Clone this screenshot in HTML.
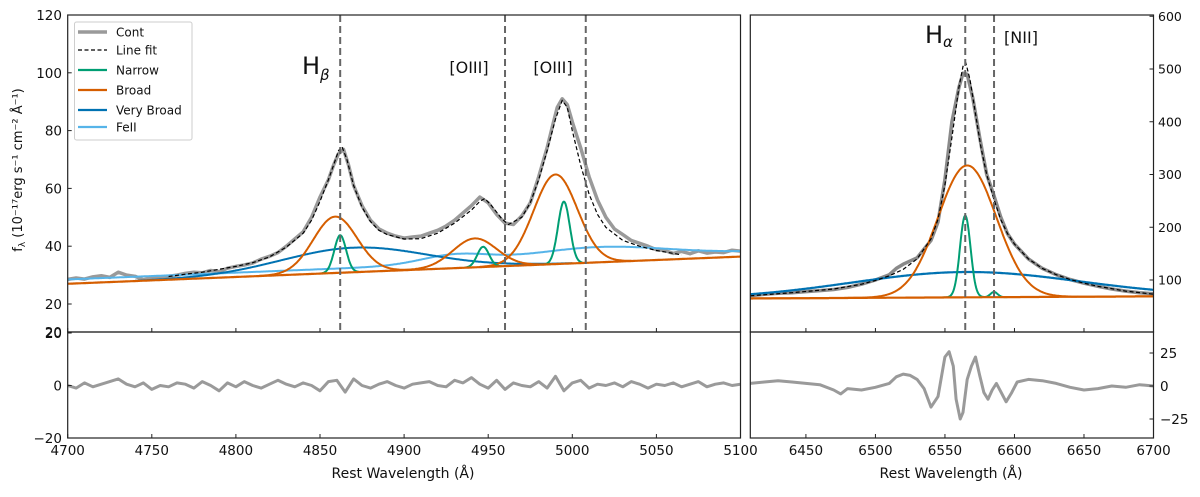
<!DOCTYPE html>
<html><head><meta charset="utf-8"><style>
html,body{margin:0;padding:0;background:#fff;}
svg text{font-family:"DejaVu Sans","Liberation Sans",sans-serif;fill:#111;}
</style></head><body>
<svg id="c" width="1200" height="492" viewBox="0 0 1200 492" xmlns="http://www.w3.org/2000/svg"></svg>
<script>
// ---------- data ----------
const waveL=[4700,4705,4710,4715,4720,4725,4730,4735,4740,4745,4750,4755,4760,4765,4770,4775,4780,4785,4790,4795,4800,4805,4810,4815,4820,4825,4830,4835,4840,4845,4850,4855,4858,4861,4864,4867,4870,4875,4880,4885,4890,4895,4900,4905,4910,4915,4920,4925,4930,4935,4940,4945,4950,4955,4960,4965,4970,4975,4980,4985,4988,4991,4994,4997,5000,5005,5010,5015,5020,5025,5030,5035,5040,5045,5050,5055,5060,5065,5070,5075,5080,5085,5090,5095,5100];
const fluxL=[28.5,29,28.6,29.4,29.8,29.2,31,30,29.6,28.4,29.2,29,29.6,30,30.6,31,30.8,31.6,31.2,32.4,33,33.5,34.2,35.5,36.5,37.8,40,42.5,45,50,57,63,68,72,73.5,68,61,54,49,46,44.5,43.5,42.8,43.2,43.5,44.5,45.5,47,49,51.5,54,57,55,51,48,47.5,50.5,55,64,74,81,88,91,89,83,74,64,56,50,46,44,42,41,40,38.8,38.5,37.5,38.2,37.4,38.4,37.6,38,37.8,38.6,38.3];
const fitWaveL=[4760,4770,4780,4790,4800,4810,4820,4830,4840,4845,4850,4855,4858,4861,4863,4866,4870,4875,4880,4885,4890,4900,4910,4920,4930,4940,4945,4948,4952,4958,4962,4970,4975,4980,4985,4990,4994,4997,5000,5005,5010,5015,5020,5030,5040,5050,5060,5065];
const fitL=[29.5,30.3,31,32,33,34.3,36.3,39.7,44.5,49,55.5,63,68,73,74.5,70,61,53.5,48.5,45.5,44,42.5,42.6,44.5,48,52.5,55.5,56.5,54,49.5,47.5,50,55,63,73,84,90.5,88,80,68,58,51,46.5,42,40,38.5,37.5,37];
const resWaveL=[4700,4705,4710,4715,4720,4725,4730,4735,4740,4745,4750,4755,4760,4765,4770,4775,4780,4785,4790,4795,4800,4805,4810,4815,4820,4825,4830,4835,4840,4845,4850,4855,4860,4865,4870,4875,4880,4885,4890,4895,4900,4905,4910,4915,4920,4925,4930,4935,4940,4945,4950,4955,4960,4965,4970,4975,4980,4985,4990,4995,5000,5005,5010,5015,5020,5025,5030,5035,5040,5045,5050,5055,5060,5065,5070,5075,5080,5085,5090,5095,5100];
const resL=[0,-1,1,-0.5,0.5,1.5,2.5,0.5,-0.5,1,-1.5,0,-0.5,1,0.5,-1,1.5,0,-2,1,-0.5,1.5,0,-1,0.5,2,0.5,-0.5,1,0,-2,1.5,2,-2.5,2.5,0,-1,0.5,1.5,0,-1,0.5,1,1.5,0,-0.5,2,1,3,0.5,-1,2,-1.5,1,0,-0.5,1.5,-1,3.5,-2,1,2,-1,0.5,0,1,-0.5,1.5,0.5,-1,0.5,0,1,-0.5,0.5,1.5,-0.5,0.5,1,0,0.5];
const waveR=[6410,6420,6430,6440,6450,6460,6470,6480,6490,6500,6510,6515,6520,6530,6540,6545,6550,6555,6560,6563,6566,6570,6575,6580,6585,6590,6595,6600,6610,6620,6630,6640,6650,6660,6670,6680,6690,6700];
const fluxR=[70,73,75,76,78,80,82,86,92,100,110,122,130,142,175,210,290,400,465,492,490,445,370,300,262,220,188,168,140,122,110,101,94,88,83,79,76,74];
const fitWaveR=[6410,6440,6470,6490,6500,6510,6520,6530,6540,6545,6550,6555,6560,6563,6565,6568,6572,6576,6580,6585,6590,6595,6600,6610,6620,6630,6640,6650,6660,6680,6700];
const fitR=[70,76,83,92,99,108,120,140,178,215,280,370,465,505,512,480,415,350,300,255,215,188,168,140,122,110,101,94,88,79,73];
const resWaveR=[6410,6420,6430,6440,6450,6460,6470,6475,6480,6490,6500,6510,6515,6520,6525,6530,6535,6540,6545,6550,6553,6556,6558,6561,6563,6566,6569,6572,6575,6578,6581,6584,6587,6590,6594,6598,6602,6610,6620,6630,6640,6650,6660,6670,6680,6690,6700];
const resR=[2,3,4,3,2,1,-3,-6,-2,-3,-1,2,7,9,8,5,-2,-16,-8,22,26,15,-10,-25,-20,5,15,22,8,-5,-10,-3,2,-4,-12,-5,3,5,4,2,-1,-3,-2,0,-1,1,0];
// continuum endpoints [start,end]
const contLWave=[4700,5100], contLVal=[27,36.4];
const contRWave=[6410,6700], contRVal=[65,69];
// gaussian components: amplitude, centre, sigma
const feOffset=1.5;
const feAmp=[3.8,3], feCen=[5015,4930], feSig=[40,20];
const vbLAmp=[8.5], vbLCen=[4870], vbLSig=[43];
const brLAmp=[19.5,10,31], brLCen=[4859,4942,4990], brLSig=[13,13,13];
const nLAmp=[13,7,21.5], nLCen=[4862,4947,4995], nLSig=[3.5,3.5,3.5];
const vbRAmp=[48], vbRCen=[6565], vbRSig=[82];
const brRAmp=[250], brRCen=[6566], brRSig=[21];
const nRAmp=[155,10], nRCen=[6564.6,6585.3], nRSig=[3.8,2.5];
const linesL=[4862,4960,5008], linesR=[6564.6,6585.3];
const xTicksL=[4700,4750,4800,4850,4900,4950,5000,5050,5100];
const xTicksR=[6450,6500,6550,6600,6650,6700];
const yTicksL=[20,40,60,80,100,120], yTicksR=[100,200,300,400,500,600];
const rTicksL=[-20,0,20], rTicksR=[-25,0,25];

// ---------- helpers ----------
const NS="http://www.w3.org/2000/svg", svg=document.getElementById('c');
function mk(t,a,p){const e=document.createElementNS(NS,t);for(const k in a)e.setAttribute(k,a[k]);(p||svg).appendChild(e);return e;}
function lin(d0,d1,r0,r1){return v=>r0+(v-d0)*(r1-r0)/(d1-d0);}
const TOP=15,MID=332,BOT=438;
const xL=lin(4700,5100,67.7,740.5), xR=lin(6410,6700,750.3,1153.5);
const yL=lin(20,120,304,15), yR=lin(100,500,280,69);
const rL=lin(-20,20,438,333), rR=lin(-25,25,419,353);
function gsum(w,A,C,S){let s=0;for(let i=0;i<A.length;i++)s+=A[i]*Math.exp(-((w-C[i])**2)/(2*S[i]*S[i]));return s;}
const contL=w=>lin(contLWave[0],contLWave[1],contLVal[0],contLVal[1])(w);
const contR=w=>lin(contRWave[0],contRWave[1],contRVal[0],contRVal[1])(w);
function path(xs,ys,X,Y){return xs.map((w,i)=>(i?'L':'M')+X(w).toFixed(1)+','+Y(ys[i]).toFixed(1)).join('');}
function fpath(w0,w1,f,X,Y){let d='';for(let w=w0;w<=w1+1e-9;w+=0.5)d+=(d?'L':'M')+X(w).toFixed(1)+','+Y(f(w)).toFixed(1);return d;}
const clipL=mk('clipPath',{id:'cl'});mk('rect',{x:67.7,y:TOP,width:672.8,height:MID-TOP},clipL);
const clipR=mk('clipPath',{id:'cr'});mk('rect',{x:750.3,y:TOP,width:403.2,height:MID-TOP},clipR);
const clipL2=mk('clipPath',{id:'cl2'});mk('rect',{x:67.7,y:MID,width:672.8,height:BOT-MID},clipL2);
const clipR2=mk('clipPath',{id:'cr2'});mk('rect',{x:750.3,y:MID,width:403.2,height:BOT-MID},clipR2);
const OR='#d55e00',GR='#009e73',DB='#0072b2',LB='#56b4e9',GY='#9a9a9a';

function drawCurve(name,d,stroke,w,clip,dash){
  const p=mk('path',{d:d,fill:'none',stroke:stroke,'stroke-width':w,'clip-path':'url(#'+clip+')','stroke-linejoin':'round'});
  if(dash)p.setAttribute('stroke-dasharray',dash);
  
  
  return p;
}

// ---------- left top ----------
drawCurve('observed-spectrum-left',path(waveL,fluxL,xL,yL),GY,3.5,'cl');
const feL=w=>contL(w)+feOffset+gsum(w,feAmp,feCen,feSig);
drawCurve('feii-left',fpath(4700,5100,feL,xL,yL),LB,2,'cl');
drawCurve('very-broad-left',fpath(4740,5000,w=>contL(w)+gsum(w,vbLAmp,vbLCen,vbLSig),xL,yL),DB,2,'cl');
for(let i=0;i<brLAmp.length;i++){
  drawCurve('broad-left-'+i,fpath(brLCen[i]-45,brLCen[i]+45,w=>contL(w)+gsum(w,[brLAmp[i]],[brLCen[i]],[brLSig[i]]),xL,yL),OR,2,'cl');
}
for(let i=0;i<nLAmp.length;i++){
  drawCurve('narrow-left-'+i,fpath(nLCen[i]-11,nLCen[i]+11,w=>contL(w)+gsum(w,[nLAmp[i]],[nLCen[i]],[nLSig[i]]),xL,yL),GR,2,'cl');
}
drawCurve('continuum-left',fpath(4700,5100,contL,xL,yL),OR,2.2,'cl');
drawCurve('line-fit-left',path(fitWaveL,fitL,xL,yL),'#000',1.2,'cl','4,2.5');

// ---------- right top ----------
drawCurve('observed-spectrum-right',path(waveR,fluxR,xR,yR),'#8a8a8a',3.5,'cr');
drawCurve('very-broad-right',fpath(6410,6700,w=>contR(w)+gsum(w,vbRAmp,vbRCen,vbRSig),xR,yR),DB,2.2,'cr');
drawCurve('broad-right',fpath(6410,6700,w=>contR(w)+gsum(w,brRAmp,brRCen,brRSig),xR,yR),OR,2,'cr');
drawCurve('narrow-right',fpath(6548,6595,w=>contR(w)+gsum(w,nRAmp,nRCen,nRSig),xR,yR),GR,2,'cr');
drawCurve('continuum-right',fpath(6410,6700,contR,xR,yR),OR,2.2,'cr');
drawCurve('line-fit-right',path(fitWaveR,fitR,xR,yR),'#000',1.2,'cr','4,2.5');

// ---------- residuals ----------
drawCurve('residual-left',path(resWaveL,resL,xL,rL),GY,3,'cl2');
drawCurve('residual-right',path(resWaveR,resR,xR,rR),GY,3,'cr2');

// ---------- dashed lines ----------
linesL.forEach((w,i)=>{const l=mk('line',{x1:xL(w),x2:xL(w),y1:TOP,y2:MID,stroke:'#666','stroke-width':2,'stroke-dasharray':'7,4'});

});
linesR.forEach((w,i)=>{const l=mk('line',{x1:xR(w),x2:xR(w),y1:TOP,y2:MID,stroke:'#666','stroke-width':2,'stroke-dasharray':'7,4'});

});

// ---------- frames & ticks ----------
function frame(name,x,y,w,h){const r=mk('rect',{x:x,y:y,width:w,height:h,fill:'none',stroke:'#222','stroke-width':1.2});

}
frame('left-top-frame',67.7,TOP,672.8,MID-TOP);
frame('left-bottom-frame',67.7,MID,672.8,BOT-MID);
frame('right-top-frame',750.3,TOP,403.2,MID-TOP);
frame('right-bottom-frame',750.3,MID,403.2,BOT-MID);
function txt(name,s,x,y,size,anchor,extra){const t=mk('text',Object.assign({x:x,y:y,'font-size':size,'text-anchor':anchor||'middle'},extra||{}));t.textContent=s;

return t;}
xTicksL.forEach(v=>{const X=xL(v);mk('line',{x1:X,x2:X,y1:MID,y2:MID-4,stroke:'#222'});mk('line',{x1:X,x2:X,y1:BOT,y2:BOT-4,stroke:'#222'});
 txt('x-tick-label-left',String(v),X,455,13.5);});
xTicksR.forEach(v=>{const X=xR(v);mk('line',{x1:X,x2:X,y1:MID,y2:MID-4,stroke:'#222'});mk('line',{x1:X,x2:X,y1:BOT,y2:BOT-4,stroke:'#222'});
 txt('x-tick-label-right',String(v),X,455,13.5);});
yTicksL.forEach(v=>{const Y=yL(v);mk('line',{x1:67.7,x2:71.7,y1:Y,y2:Y,stroke:'#222'});txt('y-tick-label-left',String(v),62,Y+5,13.5,'end');});
txt('y-tick-label-left','20',62,MID+5,13.5,'end');
yTicksR.forEach(v=>{const Y=yR(v);mk('line',{x1:1153.5,x2:1149.5,y1:Y,y2:Y,stroke:'#222'});txt('y-tick-label-right',String(v),1158,Y+4.5,12.5,'start');});
rTicksL.forEach(v=>{const Y=rL(v);mk('line',{x1:67.7,x2:71.7,y1:Y,y2:Y,stroke:'#222'});txt('residual-tick-left',v<0?'\u2212'+(-v):String(v),62,Y+5,13.5,'end');});
rTicksR.forEach(v=>{const Y=rR(v);mk('line',{x1:1153.5,x2:1149.5,y1:Y,y2:Y,stroke:'#222'});txt('residual-tick-right',v<0?'\u2212'+(-v):String(v),1160,Y+5,13.5,'start');});
txt('x-axis-title-left','Rest Wavelength (\u00c5)',403,478,14);
txt('x-axis-title-right','Rest Wavelength (\u00c5)',951,478,14);
const yt=txt('y-axis-title','f',0,0,13,'middle',{transform:'translate(22,170) rotate(-90)'});
const ys1=mk('tspan',{dy:3,'font-size':9},yt);ys1.textContent='\u03bb';
const ys2=mk('tspan',{dy:-3},yt);ys2.textContent=' (10\u207b\u00b9\u2077erg s\u207b\u00b9 cm\u207b\u00b2 \u00c5\u207b\u00b9)';

// line labels
const hb=txt('hbeta-label','H',302,74,24,'start');const hbs=mk('tspan',{dy:6,'font-size':15,'font-style':'italic'},hb);hbs.textContent='\u03b2';
txt('oiii-label-1','[OIII]',469,73,16);
txt('oiii-label-2','[OIII]',553,73,16);
const ha=txt('halpha-label','H',925,43,24,'start');const has=mk('tspan',{dy:4,'font-size':15,'font-style':'italic'},ha);has.textContent='\u03b1';
txt('nii-label','[NII]',1021,43,16);

// legend
const lg=mk('g',{});


mk('rect',{x:74.5,y:22,width:117.5,height:118,rx:2,fill:'#fff',stroke:'#ccc','stroke-width':1,opacity:0.95},lg);
const legN=['Cont','Line fit','Narrow','Broad','Very Broad','FeII'];
const legC=[GY,'#000',GR,OR,DB,LB];
const legY=[32,50,70,90,110,127];
legN.forEach((n,i)=>{
 const l=mk('line',{x1:78,x2:107,y1:legY[i],y2:legY[i],stroke:legC[i],'stroke-width':i==0?3.5:(i==1?1.3:2.2)},lg);
 if(i==1)l.setAttribute('stroke-dasharray','4,2.5');
 const t=mk('text',{x:116,y:legY[i]+4.5,'font-size':12},lg);t.textContent=n;
 
 
});
</script>
</body></html>
